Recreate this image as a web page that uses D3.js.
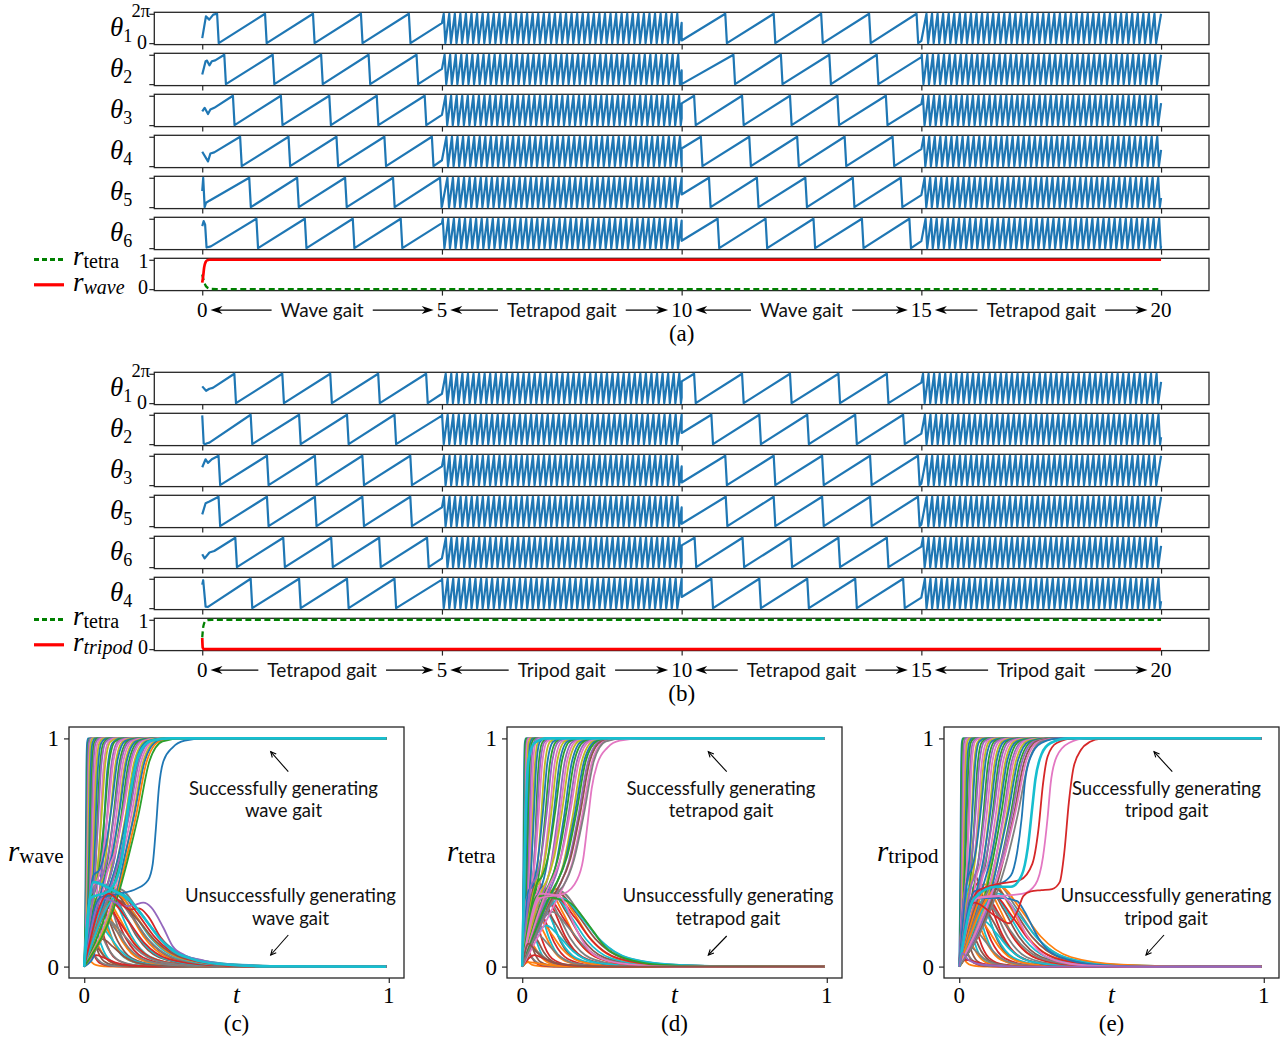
<!DOCTYPE html>
<html><head><meta charset="utf-8">
<script src="https://cdn.jsdelivr.net/npm/d3@7"></script>
<style>body{margin:0;background:#fff}svg{display:block}</style>
</head><body>
<svg id="c" width="1284" height="1042"></svg>
<script>
// ---------------- DATA ----------------
const tickT = [0, 5, 10, 15, 20];
const fastPeriod = 0.116;   // period of the fast sawtooth (s)
const dropTime = 0.034;     // width of the falling edge of each tooth (s)

// panel (a): phase (fraction of 2*pi)
const labelsA = ["1", "2", "3", "4", "5", "6"];
const transA = [
  [[0,0.17],[0.077,0.91],[0.146,0.80],[0.23,0.97]],
  [[0,0.33],[0.07,0.78],[0.1,0.8],[0.15,0.64],[0.2,0.78],[0.27,0.81]],
  [[0,0.47],[0.05,0.59],[0.12,0.38],[0.17,0.53],[0.25,0.59]],
  [[0,0.49],[0.12,0.16],[0.17,0.43],[0.25,0.47]],
  [[0,0.55],[0.02,1.0],[0.05,0.0],[0.08,0.15],[0.15,0.22]],
  [[0,0.75],[0.03,0.92],[0.06,0.8],[0.09,0.02],[0.18,0.06]]
];
const resets0A = [
  [0.31,1.31,2.31,3.31,4.31],
  [0.46,1.47,2.48,3.47,4.47],
  [0.64,1.64,2.65,3.64,4.64],
  [0.79,1.80,2.80,3.80,4.79],
  [0.98,1.98,2.98,3.98,4.96],
  [1.13,2.14,3.14,4.14]
];
const end0A = [0.68,0.52,0.35,0.20,0.02,0.85];
const start2A = [0.09,0.0,0.74,0.6,0.43,0.25];
const resets2A = [
  [10.91,11.92,12.91,13.91,14.90],
  [11.08,12.07,13.08,14.07],
  [10.26,11.26,12.26,13.25,14.26],
  [10.40,11.41,12.41,13.40,14.40],
  [10.57,11.57,12.58,13.57,14.57],
  [10.75,11.75,12.75,13.76,14.75]
];
const end2A = [0.08,0.92,0.72,0.58,0.41,0.24];

// panel (b)
const labelsB = ["1", "2", "3", "5", "6", "4"];
const transB = [
  [[0,0.57],[0.08,0.42],[0.15,0.49],[0.22,0.52]],
  [[0,0.98],[0.03,0.02],[0.06,0.0],[0.1,0.03],[0.15,0.05]],
  [[0,0.61],[0.07,0.88],[0.12,0.76],[0.2,0.88]],
  [[0,0.4],[0.07,0.78],[0.15,0.84]],
  [[0,0.44],[0.05,0.3],[0.15,0.5],[0.25,0.55]],
  [[0,0.8],[0.02,0.95],[0.07,0.05],[0.12,0.04]]
];
const resets0B = [
  [0.67,1.67,2.67,3.67,4.67],
  [1.01,2.02,3.02,4.01],
  [0.34,1.35,2.35,3.34,4.34],
  [0.34,1.35,2.35,3.34,4.34],
  [0.69,1.69,2.69,3.69,4.69],
  [1.01,2.02,3.02,4.01]
];
const end0B = [0.32,0.97,0.64,0.64,0.30,0.97];
const start2B = [0.74,0.38,0.09,0.08,0.74,0.38];
const resets2B = [
  [10.26,11.26,12.26,13.27,14.28],
  [10.62,11.62,12.62,13.62,14.62],
  [10.91,11.92,12.93,13.93,14.93],
  [10.92,11.92,12.93,13.93,14.93],
  [10.27,11.27,12.27,13.27,14.28],
  [10.62,11.62,12.62,13.62,14.62]
];
const end2B = [0.70,0.36,0.05,0.05,0.70,0.36];

// order parameters
const rTetraA = [[0,0.5],[0.03,0.3],[0.07,0.12],[0.12,0.04],[0.2,0.005],[0.3,0],[20,0]];
const rWaveA  = [[0,0.22],[0.02,0.45],[0.04,0.74],[0.07,0.92],[0.1,0.98],[0.15,1],[20,1]];
const rTetraB = [[0,0.4],[0.02,0.75],[0.04,0.88],[0.07,0.96],[0.12,0.99],[0.2,1],[20,1]];
const rTripodB = [[0,0.38],[0.01,0.05],[0.03,0],[20,0]];

const gaitA = ["Wave gait", "Tetrapod gait", "Wave gait", "Tetrapod gait"];
const gaitB = ["Tetrapod gait", "Tripod gait", "Tetrapod gait", "Tripod gait"];

// bottom panels: rising runs [tKnot, rKnot, tHalf, width], falling runs [tKnot, rKnot, decay]
const riseC = [
 [0,0,0.005,0.002],[0,0,0.007,0.003],[0,0,0.009,0.003],[0,0,0.011,0.004],[0,0,0.013,0.004],
 [0,0,0.016,0.005],[0,0,0.019,0.006],[0,0,0.022,0.007],[0,0,0.026,0.008],[0,0,0.030,0.009],
 [0,0,0.034,0.010],[0,0,0.039,0.011],[0.01,0.2,0.044,0.012],[0,0,0.049,0.013],[0.015,0.25,0.055,0.014],
 [0,0,0.060,0.015],[0.02,0.3,0.066,0.016],[0.02,0.22,0.072,0.017],[0.025,0.35,0.078,0.018],[0.03,0.28,0.084,0.019],
 [0.03,0.4,0.090,0.02],[0.04,0.3,0.095,0.021],[0.04,0.36,0.100,0.022],[0.05,0.32,0.105,0.023],[0.05,0.27,0.110,0.024],
 [0.06,0.35,0.115,0.025],[0.06,0.3,0.120,0.026],[0.07,0.33,0.125,0.027],[0.07,0.38,0.130,0.028],[0.08,0.31,0.135,0.029],
 [0.08,0.34,0.140,0.03],[0.09,0.32,0.145,0.03],[0.09,0.36,0.150,0.031],[0.1,0.33,0.155,0.032],[0.1,0.3,0.160,0.033],
 [0.11,0.34,0.165,0.034],[0.11,0.32,0.170,0.035],[0.115,0.33,0.178,0.036]
];
const fallC = [
 [0.005,0.05,0.01],[0.01,0.12,0.012],[0.012,0.2,0.015],[0.015,0.08,0.015],[0.02,0.25,0.018],
 [0.02,0.15,0.02],[0.025,0.3,0.022],[0.03,0.1,0.02],[0.03,0.2,0.025],[0.035,0.35,0.027],
 [0.04,0.25,0.03],[0.04,0.05,0.03],[0.045,0.3,0.032],[0.05,0.4,0.033],[0.05,0.18,0.035],
 [0.055,0.28,0.036],[0.06,0.33,0.038],[0.06,0.12,0.035],[0.065,0.22,0.04],[0.07,0.36,0.042],
 [0.07,0.3,0.044],[0.075,0.26,0.045],[0.08,0.34,0.047],[0.08,0.2,0.046],[0.085,0.31,0.05],
 [0.09,0.35,0.052],[0.09,0.28,0.053],[0.095,0.33,0.055],[0.1,0.3,0.057],[0.1,0.34,0.058],
 [0.105,0.32,0.06],[0.11,0.33,0.062],[0.11,0.29,0.063],[0.115,0.34,0.065],[0.12,0.32,0.066]
];
const extrasC = [
 [[0,0],[0.05,0.3],[0.117,0.32],[0.17,0.34],[0.21,0.38],[0.225,0.45],[0.235,0.6],[0.245,0.78],[0.26,0.9],[0.29,0.96],[0.33,0.99],[0.4,1],[0.992,1]],
 [[0,0],[0.06,0.3],[0.14,0.265],[0.165,0.27],[0.194,0.28],[0.22,0.26],[0.26,0.17],[0.29,0.09],[0.33,0.05],[0.38,0.03],[0.45,0.012],[0.6,0.002],[0.992,0]],
 [[0,0],[0.08,0.32],[0.15,0.25],[0.18,0.255],[0.21,0.22],[0.25,0.13],[0.29,0.07],[0.35,0.03],[0.45,0.008],[0.6,0],[0.992,0]],
 [[0,0],[0.03,0.37],[0.1,0.33],[0.13,0.31],[0.17,0.26],[0.21,0.19],[0.25,0.12],[0.29,0.07],[0.35,0.035],[0.45,0.01],[0.6,0.001],[0.992,0]],
 [[0,0],[0.02,0.3],[0.08,0.33],[0.12,0.45],[0.15,0.75],[0.18,0.93],[0.22,0.99],[0.28,1],[0.992,1]]
];
const extraColorsC = [0, 4, 3, 9, 9];

const riseD = [
 [0,0,0.004,0.002],[0,0,0.006,0.002],[0,0,0.008,0.003],[0,0,0.010,0.003],[0,0,0.012,0.004],
 [0,0,0.015,0.005],[0,0,0.018,0.006],[0,0,0.022,0.007],[0,0,0.026,0.008],[0,0,0.031,0.009],
 [0.01,0.2,0.036,0.01],[0,0,0.041,0.011],[0.012,0.25,0.047,0.012],[0.015,0.3,0.053,0.013],[0.02,0.22,0.06,0.014],
 [0.02,0.33,0.067,0.016],[0.03,0.28,0.074,0.017],[0.03,0.36,0.081,0.018],[0.04,0.3,0.088,0.019],[0.04,0.34,0.095,0.02],
 [0.05,0.31,0.102,0.021],[0.05,0.37,0.109,0.022],[0.06,0.3,0.116,0.023],[0.06,0.33,0.123,0.024],[0.07,0.35,0.13,0.025],
 [0.075,0.31,0.137,0.026],[0.08,0.34,0.144,0.027],[0.085,0.32,0.151,0.028],[0.09,0.36,0.158,0.029],[0.095,0.31,0.165,0.03],
 [0.1,0.33,0.172,0.031],[0.105,0.35,0.178,0.031],[0.11,0.32,0.184,0.032],[0.115,0.34,0.19,0.032],[0.12,0.31,0.196,0.033],
 [0.12,0.33,0.202,0.033]
];
const fallD = [
 [0.004,0.04,0.01],[0.008,0.1,0.012],[0.01,0.18,0.014],[0.014,0.06,0.015],[0.018,0.24,0.017],
 [0.02,0.12,0.02],[0.024,0.3,0.021],[0.028,0.16,0.022],[0.032,0.08,0.025],[0.035,0.34,0.026],
 [0.04,0.22,0.028],[0.045,0.28,0.03],[0.05,0.38,0.032],[0.05,0.14,0.033],[0.055,0.31,0.035],
 [0.06,0.2,0.036],[0.065,0.35,0.038],[0.07,0.26,0.04],[0.075,0.32,0.042],[0.08,0.18,0.043],
 [0.085,0.34,0.045],[0.09,0.29,0.047],[0.095,0.33,0.05],[0.1,0.24,0.051],[0.105,0.31,0.053],
 [0.11,0.34,0.055],[0.115,0.3,0.057],[0.12,0.32,0.06],[0.125,0.33,0.062],[0.13,0.3,0.064],
 [0.02,0.02,0.03],[0.04,0.05,0.03]
];
const extrasD = [
 [[0,0],[0.05,0.31],[0.126,0.294],[0.15,0.285],[0.17,0.265],[0.2,0.215],[0.236,0.15],[0.26,0.105],[0.28,0.076],[0.32,0.045],[0.367,0.025],[0.45,0.008],[0.6,0.001],[0.992,0]],
 [[0,0],[0.06,0.32],[0.12,0.31],[0.14,0.28],[0.165,0.2],[0.19,0.13],[0.22,0.07],[0.27,0.03],[0.35,0.01],[0.5,0],[0.992,0]],
 [[0,0],[0.06,0.3],[0.137,0.32],[0.18,0.38],[0.2,0.47],[0.214,0.62],[0.228,0.78],[0.247,0.89],[0.28,0.96],[0.32,0.99],[0.4,1],[0.992,1]],
 [[0,0],[0.02,0.1],[0.05,0.06],[0.1,0.02],[0.2,0.003],[0.3,0],[0.992,0]],
 [[0,0],[0.01,0.6],[0.02,0.9],[0.04,0.98],[0.08,1],[0.992,1]]
];
const extraColorsD = [2, 6, 6, 5, 9];

const riseE = [
 [0,0,0.004,0.002],[0,0,0.006,0.002],[0,0,0.009,0.003],[0,0,0.012,0.004],[0,0,0.015,0.005],
 [0,0,0.019,0.006],[0.008,0.15,0.023,0.007],[0,0,0.027,0.008],[0.01,0.25,0.032,0.009],[0,0,0.037,0.01],
 [0.015,0.3,0.042,0.011],[0.015,0.2,0.048,0.012],[0.02,0.35,0.054,0.013],[0.02,0.27,0.06,0.014],[0.03,0.32,0.066,0.015],
 [0.03,0.4,0.072,0.016],[0.04,0.3,0.078,0.017],[0.04,0.36,0.084,0.018],[0.05,0.33,0.09,0.019],[0.05,0.28,0.096,0.02],
 [0.06,0.35,0.102,0.021],[0.06,0.31,0.108,0.022],[0.07,0.37,0.114,0.023],[0.07,0.33,0.12,0.024],[0.08,0.3,0.126,0.025],
 [0.08,0.36,0.132,0.026],[0.09,0.34,0.138,0.027],[0.09,0.31,0.144,0.028],[0.1,0.35,0.15,0.029],[0.1,0.33,0.156,0.03],
 [0.11,0.36,0.162,0.031],[0.11,0.32,0.168,0.032],[0.115,0.35,0.174,0.033],[0.12,0.34,0.18,0.034],[0.12,0.37,0.186,0.035],
 [0.125,0.33,0.192,0.036]
];
const fallE = [
 [0.004,0.05,0.01],[0.008,0.12,0.012],[0.01,0.2,0.014],[0.014,0.07,0.015],[0.018,0.26,0.017],
 [0.02,0.14,0.02],[0.024,0.32,0.021],[0.028,0.18,0.022],[0.032,0.09,0.025],[0.035,0.36,0.026],
 [0.04,0.24,0.028],[0.045,0.3,0.03],[0.05,0.4,0.032],[0.05,0.16,0.033],[0.055,0.33,0.035],
 [0.06,0.22,0.036],[0.065,0.37,0.038],[0.07,0.28,0.04],[0.075,0.34,0.042],[0.08,0.2,0.043],
 [0.085,0.36,0.045],[0.09,0.3,0.047],[0.095,0.35,0.05],[0.1,0.26,0.051],[0.105,0.33,0.053],
 [0.11,0.37,0.055],[0.115,0.31,0.057],[0.12,0.34,0.06],[0.125,0.36,0.062],[0.13,0.32,0.064],
 [0.135,0.35,0.066],[0.02,0.03,0.03]
];
const extrasE = [
 [[0,0],[0.06,0.3],[0.14,0.3],[0.19,0.287],[0.215,0.24],[0.239,0.178],[0.26,0.125],[0.288,0.076],[0.32,0.048],[0.354,0.032],[0.42,0.012],[0.5,0.004],[0.65,0],[0.992,0]],
 [[0,0],[0.05,0.3],[0.13,0.31],[0.16,0.29],[0.19,0.22],[0.22,0.14],[0.26,0.07],[0.32,0.025],[0.42,0.005],[0.55,0],[0.992,0]],
 [[0,0],[0.05,0.33],[0.13,0.36],[0.17,0.4],[0.19,0.5],[0.205,0.65],[0.215,0.8],[0.235,0.92],[0.27,0.98],[0.33,1],[0.992,1]],
 [[0,0],[0.06,0.33],[0.12,0.36],[0.2,0.38],[0.24,0.45],[0.26,0.6],[0.275,0.8],[0.29,0.92],[0.32,0.98],[0.38,1],[0.992,1]],
 [[0,0],[0.06,0.3],[0.14,0.31],[0.21,0.32],[0.25,0.36],[0.275,0.48],[0.29,0.65],[0.3,0.8],[0.32,0.92],[0.36,0.98],[0.42,1],[0.992,1]],
 [[0,0],[0.05,0.28],[0.12,0.22],[0.165,0.19],[0.19,0.24],[0.211,0.31],[0.235,0.33],[0.27,0.335],[0.305,0.34],[0.33,0.37],[0.345,0.5],[0.36,0.72],[0.375,0.87],[0.4,0.95],[0.43,0.985],[0.463,0.998],[0.52,1],[0.992,1]],
 [[0,0],[0.05,0.3],[0.12,0.35],[0.17,0.35],[0.205,0.4],[0.225,0.52],[0.24,0.7],[0.25,0.82],[0.27,0.93],[0.3,0.98],[0.36,1],[0.992,1]],
 [[0,0],[0.01,0.06],[0.03,0.03],[0.08,0.008],[0.2,0],[0.992,0]]
];
const extraColorsE = [0, 6, 0, 3, 6, 3, 9, 4];

// ---------------- DRAWING ----------------
const svg = d3.select("#c");
const serif = "'Liberation Serif','DejaVu Serif',serif";
const sans = "Lato,'Open Sans',sans-serif";
const blue = "#1f77b4";
const edge = "#262626";
const tab = d3.schemeCategory10;

const xT = d3.scaleLinear([-1, 21], [154.3, 1209]);
const rowH = 32.3, rowStep = 41;

function buildRow(tr, r0, e0, s2, r2, e2) {
  const p = tr.map(d => d.slice());
  const slow = (res, ve, te) => { res.forEach(r => p.push([r, 1], [r + dropTime, 0])); p.push([te, ve]); };
  const fast = (ts, te, v0) => {
    const rs = d3.range(ts + (1 - v0) * fastPeriod, te - dropTime, fastPeriod);
    rs.forEach(r => p.push([r, 1], [r + dropTime, 0]));
    const last = rs.length ? rs[rs.length - 1] + dropTime : ts;
    const ve = rs.length ? Math.min(1, (te - last) / (fastPeriod - dropTime)) : v0;
    p.push([te, ve]);
  };
  slow(r0, e0, 5);
  fast(5, 10, e0);
  p.push([10, s2]);
  slow(r2, e2, 15);
  fast(15, 20, e2);
  return p;
}

function boxAndTicks(g, x, y, top, h, left, xt, yt) {
  g.append("g").attr("transform", `translate(${left},0)`)
    .call(d3.axisLeft(y).tickValues(yt).tickSize(5).tickFormat(""))
    .call(a => a.select(".domain").remove());
  g.append("g").attr("transform", `translate(0,${top + h})`)
    .call(d3.axisBottom(x).tickValues(xt).tickSize(5).tickFormat(""))
    .call(a => a.select(".domain").remove());
  g.selectAll(".tick line").attr("stroke", edge).attr("stroke-width", 1.2);
}

function arrowH(x1, x2, y) {
  const dir = Math.sign(x2 - x1), L = 12, hw = 4, notch = 3.5;
  svg.append("line").attr("x1", x1).attr("x2", x2 - dir * (L - notch)).attr("y1", y).attr("y2", y)
    .attr("stroke", "#000").attr("stroke-width", 1.4);
  svg.append("path").attr("d",
    `M${x2},${y}L${x2 - dir * L},${y - hw}L${x2 - dir * (L - notch)},${y}L${x2 - dir * L},${y + hw}Z`)
    .attr("fill", "#000");
}

function drawTop(top, labels, tr, r0, e0, s2, r2, e2, rG, rR, legend, gaits, tag) {
  const g = svg.append("g");
  const left = xT.range()[0], right = xT.range()[1];
  const line = d3.line().x(d => xT(d[0]));
  for (let i = 0; i < 7; i++) {
    const rt = top + i * rowStep;
    const y = d3.scaleLinear([-0.05, 1.05], [rt + rowH, rt]);
    boxAndTicks(g, xT, y, rt, rowH, left, tickT, [0, 1]);
    g.append("rect").attr("x", left).attr("y", rt).attr("width", right - left).attr("height", rowH)
      .attr("fill", "none").attr("stroke", edge).attr("stroke-width", 1.3);
    if (i < 6) {
      const pts = buildRow(tr[i], r0[i], e0[i], s2[i], r2[i], e2[i]);
      g.append("path").attr("d", line.y(d => y(d[1]))(pts)).attr("fill", "none")
        .attr("stroke", blue).attr("stroke-width", 2.2).attr("stroke-linejoin", "round");
      const yc = rt + rowH / 2;
      const t = g.append("text").attr("x", 110).attr("y", yc + 8).style("font-family", serif);
      t.append("tspan").attr("font-style", "italic").attr("font-size", 27).text("θ");
      t.append("tspan").attr("font-size", 18).attr("dy", 6).text(labels[i]);
      if (i === 0) {
        g.append("text").attr("x", 150).attr("y", rt + 4.5).attr("text-anchor", "end")
          .style("font", `18.5px ${serif}`).text("2π");
        g.append("text").attr("x", 147).attr("y", rt + 37).attr("text-anchor", "end")
          .style("font", `20px ${serif}`).text("0");
      }
    } else {
      const lg = d3.line().curve(d3.curveMonotoneX).x(d => xT(d[0])).y(d => y(d[1]));
      g.append("path").attr("d", lg(rG)).attr("fill", "none").attr("stroke", "#008000")
        .attr("stroke-width", 2.3).attr("stroke-dasharray", "6,3.5");
      g.append("path").attr("d", lg(rR)).attr("fill", "none").attr("stroke", "#ff0000")
        .attr("stroke-width", 2.7);
      g.append("text").attr("x", 148.5).attr("y", rt + 10).attr("text-anchor", "end")
        .style("font", `20px ${serif}`).text("1");
      g.append("text").attr("x", 148).attr("y", rt + 36).attr("text-anchor", "end")
        .style("font", `20px ${serif}`).text("0");
      // legend
      const ly = [rt + 1.2, rt + 26.5], ty = [rt + 7, rt + 32.5];
      g.append("line").attr("x1", 34).attr("x2", 64).attr("y1", ly[0]).attr("y2", ly[0])
        .attr("stroke", "#008000").attr("stroke-width", 3.2).attr("stroke-dasharray", "5,3");
      g.append("line").attr("x1", 34).attr("x2", 64).attr("y1", ly[1]).attr("y2", ly[1])
        .attr("stroke", "#ff0000").attr("stroke-width", 3.2);
      legend.forEach((lab, k) => {
        const t = g.append("text").attr("x", 73).attr("y", ty[k]).style("font-family", serif);
        t.append("tspan").attr("font-style", "italic").attr("font-size", 27).text("r");
        t.append("tspan").attr("font-size", 20).attr("dy", 3)
          .attr("font-style", k === 1 ? "italic" : "normal").text(lab);
      });
      // gait annotations
      const base = rt + rowH + 26;
      const nums = tickT.map(v => svg.append("text").attr("x", xT(v)).attr("y", base + 0.5)
        .attr("text-anchor", "middle").style("font", `21px ${serif}`).text(v));
      gaits.forEach((nm, k) => {
        const cx = xT((tickT[k] + tickT[k + 1]) / 2);
        const tx = svg.append("text").attr("x", cx).attr("y", base).attr("text-anchor", "middle")
          .style("font", `19px ${sans}`).attr("fill", "#111").text(nm);
        const tb = tx.node().getBBox();
        const n0 = nums[k].node().getBBox(), n1 = nums[k + 1].node().getBBox();
        const ay = base - 6.5;
        arrowH(tb.x - 9, n0.x + n0.width + 3, ay);
        arrowH(tb.x + tb.width + 9, n1.x - 3, ay);
      });
      svg.append("text").attr("x", xT(10)).attr("y", base + 24.5).attr("text-anchor", "middle")
        .style("font", `23px ${serif}`).text(tag);
    }
  }
}

drawTop(12.3, labelsA, transA, resets0A, end0A, start2A, resets2A, end2A, rTetraA, rWaveA, ["tetra", "wave"], gaitA, "(a)");
drawTop(372.3, labelsB, transB, resets0B, end0B, start2B, resets2B, end2B, rTetraB, rTripodB, ["tetra", "tripod"], gaitB, "(b)");

function risePts([tk, rk, t50, w]) {
  const p = [[0, 0]];
  if (rk > 0) p.push([tk, rk]);
  const s = 1 - rk;
  [[t50 - 2 * w, 0.04], [t50 - w, 0.2], [t50, 0.5], [t50 + w, 0.85], [t50 + 2.2 * w, 0.98], [t50 + 4 * w, 1]]
    .forEach(([t, f]) => { if (t > p[p.length - 1][0] + 0.001) p.push([t, rk + s * f]); });
  p.push([0.992, 1]);
  return p;
}
function fallPts([tk, rk, d]) {
  return [[0, 0], [tk, rk], [tk + d, rk * 0.72], [tk + 2 * d, rk * 0.38], [tk + 3.5 * d, rk * 0.12],
    [tk + 6 * d, rk * 0.025], [tk + 10 * d, 0], [0.992, 0]];
}

function arrowD(x1, y1, x2, y2) {
  const a = Math.atan2(y2 - y1, x2 - x1), L = 6, sp = 0.45;
  svg.append("line").attr("x1", x1).attr("y1", y1).attr("x2", x2).attr("y2", y2)
    .attr("stroke", "#000").attr("stroke-width", 1.1);
  svg.append("path").attr("d",
    `M${x2 - L * Math.cos(a - sp)},${y2 - L * Math.sin(a - sp)}L${x2},${y2}L${x2 - L * Math.cos(a + sp)},${y2 - L * Math.sin(a + sp)}`)
    .attr("fill", "none").attr("stroke", "#000").attr("stroke-width", 1.1);
}

function drawBottom(left, rise, fall, extras, extraCols, sub, gaitWord, anno, tag) {
  const top = 727, bottom = 978, right = left + 335;
  const x = d3.scaleLinear([-0.05, 1.05], [left, right]);
  const y = d3.scaleLinear([-0.05, 1.05], [bottom, top]);
  const g = svg.append("g");
  boxAndTicks(g, x, y, top, bottom - top, left, [0, 1], [0, 1]);
  const line = d3.line().curve(d3.curveMonotoneX).x(d => x(d[0])).y(d => y(d[1]));
  const lg = g.append("g").attr("fill", "none").attr("stroke-width", 1.8);
  let k = 0;
  const n = Math.max(rise.length, fall.length);
  for (let i = 0; i < n; i++) {
    if (i < rise.length) lg.append("path").attr("d", line(risePts(rise[i]))).attr("stroke", tab[(k++) % 10]);
    if (i < fall.length) lg.append("path").attr("d", line(fallPts(fall[i]))).attr("stroke", tab[(k++) % 10]);
  }
  extras.forEach((p, j) => lg.append("path").attr("d", line(p)).attr("stroke", tab[extraCols[j]])
    .attr("stroke-width", extraCols[j] === 9 ? 2.6 : 1.8));
  g.append("rect").attr("x", left).attr("y", top).attr("width", right - left).attr("height", bottom - top)
    .attr("fill", "none").attr("stroke", edge).attr("stroke-width", 1.3);
  g.append("text").attr("x", left - 10).attr("y", y(1) + 8).attr("text-anchor", "end").style("font", `23px ${serif}`).text("1");
  g.append("text").attr("x", left - 10).attr("y", y(0) + 8).attr("text-anchor", "end").style("font", `23px ${serif}`).text("0");
  g.append("text").attr("x", x(0)).attr("y", 1003).attr("text-anchor", "middle").style("font", `23px ${serif}`).text("0");
  g.append("text").attr("x", x(1)).attr("y", 1003).attr("text-anchor", "middle").style("font", `23px ${serif}`).text("1");
  g.append("text").attr("x", x(0.5)).attr("y", 1003).attr("text-anchor", "middle")
    .style("font", `italic 25px ${serif}`).text("t");
  g.append("text").attr("x", x(0.5)).attr("y", 1031).attr("text-anchor", "middle")
    .style("font", `23px ${serif}`).text(tag);
  const yl = g.append("text").attr("x", anno.ylab).attr("y", 861).style("font-family", serif);
  yl.append("tspan").attr("font-style", "italic").attr("font-size", 29).text("r");
  yl.append("tspan").attr("font-size", 21).attr("dy", 2).text(sub);
  const ts = `18.5px ${sans}`;
  [["Successfully generating", anno.c1, 795], [gaitWord, anno.c1, 817],
   ["Unsuccessfully generating", anno.c2, 902], [gaitWord, anno.c2, 925]].forEach(([s, cx, by]) =>
    g.append("text").attr("x", cx).attr("y", by).attr("text-anchor", "middle").style("font", ts)
      .attr("fill", "#111").text(s));
  arrowD(anno.a1[0], anno.a1[1], anno.a1[2], anno.a1[3]);
  arrowD(anno.a2[0], anno.a2[1], anno.a2[2], anno.a2[3]);
}

drawBottom(69, riseC, fallC, extrasC, extraColorsC, "wave", "wave gait",
  {ylab: 8, c1: 283.5, c2: 290.5, a1: [288.3, 771.7, 270.7, 751.7], a2: [288.3, 935, 270.7, 955]}, "(c)");
drawBottom(507, riseD, fallD, extrasD, extraColorsD, "tetra", "tetrapod gait",
  {ylab: 447, c1: 721, c2: 728, a1: [726.7, 771.7, 708.3, 751.7], a2: [726.7, 936, 708.3, 955]}, "(d)");
drawBottom(944, riseE, fallE, extrasE, extraColorsE, "tripod", "tripod gait",
  {ylab: 877, c1: 1166.5, c2: 1166, a1: [1172.3, 771.7, 1154, 751.7], a2: [1164, 935, 1146, 955]}, "(e)");
</script>
</body></html>
